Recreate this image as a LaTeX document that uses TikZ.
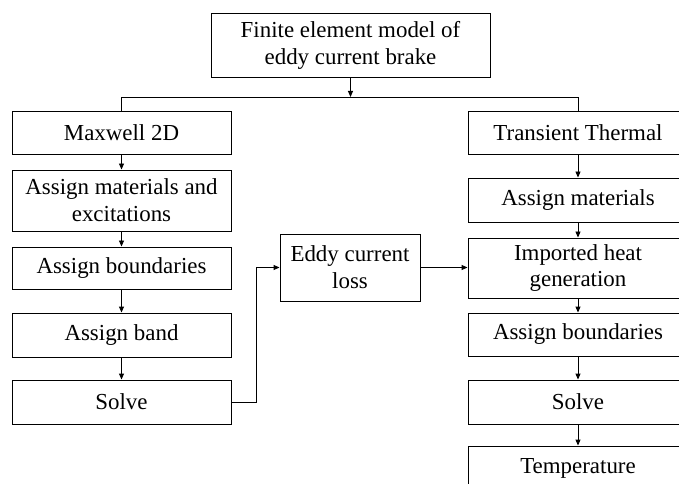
\documentclass[tikz,border=0pt]{standalone}
\usepackage{fontspec}
\setmainfont{Liberation Serif}
\usetikzlibrary{arrows.meta,positioning}
\begin{document}
\begin{tikzpicture}[x=1bp,y=-1bp,
  box/.style={draw,line width=0.9bp,rectangle,inner sep=0pt,align=center,
    font=\fontsize{23}{27}\selectfont},
  lbox/.style={box,minimum width=219bp},
  rbox/.style={box,minimum width=220bp},
  conn/.style={line width=0.9bp},
  arr/.style={conn,-{Triangle[length=6bp,width=5bp]}}]
\useasboundingbox (0,0) rectangle (679,484);
\clip (0,0) rectangle (679,484);
\fill[white] (0,0) rectangle (679,484);
% top
\node[box,minimum width=279bp,minimum height=64bp] (top) at (350.5,45) {Finite element model of\\eddy current brake};
\coordinate (hub) at (350.5,97);
% left column
\node[lbox,minimum height=43bp] (L1) at (121.5,132.5) {Maxwell 2D};
\node[lbox,minimum height=61bp] (L2) at (121.5,200.5) {Assign materials and\\excitations};
\node[lbox,minimum height=42bp] (L3) at (121.5,268) {Assign boundaries};
\node[lbox,minimum height=44bp] (L4) at (121.5,335) {Assign band};
\node[lbox,minimum height=44bp] (L5) at (121.5,402) {Solve};
% middle
\node[box,minimum width=140bp,minimum height=67bp] (eddy) at (350,267.5) {Eddy current\\loss};
% right column
\node[rbox,minimum height=43bp] (R1) at (578,132.5) {Transient Thermal};
\node[rbox,minimum height=44bp] (R2) at (578,200) {Assign materials};
\node[rbox,minimum height=60bp] (R3) at (578,268) {Imported heat\\generation};
\node[rbox,minimum height=43bp] (R4) at (578,334.5) {Assign boundaries};
\node[rbox,minimum height=44bp] (R5) at (578,402) {Solve};
\node[rbox,minimum height=44bp] (R6) at (578,468) {Temperature};
% connectors
\draw[arr] (top.south) -- (hub);
\draw[conn] (L1.north) -- (L1.north |- hub) -- (R1.north |- hub) -- (R1.north);
\draw[arr] (L1) -- (L2);
\draw[arr] (L2) -- (L3);
\draw[arr] (L3) -- (L4);
\draw[arr] (L4) -- (L5);
\draw[arr] (R1) -- (R2);
\draw[arr] (R2) -- (R3);
\draw[arr] (R3) -- (R4);
\draw[arr] (R4) -- (R5);
\draw[arr] (R5) -- (R6);
\draw[arr] (L5.east) -- ++(25,0) |- (eddy.west);
\draw[arr] (eddy.east) -- (R3.west |- eddy.east);
\end{tikzpicture}
\end{document}
